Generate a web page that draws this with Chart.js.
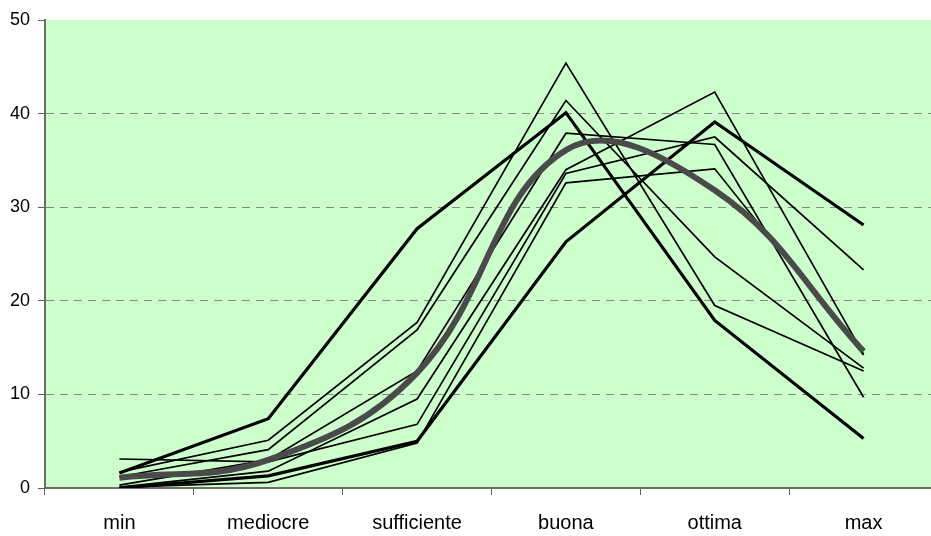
<!DOCTYPE html>
<html>
<head>
<meta charset="utf-8">
<script src="https://cdn.jsdelivr.net/npm/chart.js@4"></script>
<style>
  html, body { margin: 0; padding: 0; background: #fff; overflow: hidden; }
  #wrap { width: 931px; height: 536px; overflow: hidden; }
</style>
</head>
<body>
<div id="wrap"><canvas id="chart" width="945" height="536"></canvas></div>
<script>
const categories = ['min', 'mediocre', 'sufficiente', 'buona', 'ottima', 'max'];

// thin lines
const lineA = [1.7, 5.1, 17.7, 45.4, 19.5, 12.5];
const lineB = [1.2, 4.1, 16.9, 41.4, 24.7, 12.8];
const lineC = [0.3, 3.0, 12.5, 37.9, 36.7, 9.7];
const lineD = [0.1, 1.8, 9.5, 34.0, 42.3, 14.3];
const lineE = [3.1, 2.8, 6.8, 33.6, 37.5, 23.3];
const lineF = [0.1, 0.6, 4.8, 32.6, 34.1, 14.2];
// thick lines
const thickA = [1.6, 7.4, 27.7, 40.1, 17.9, 5.3];
const thickB = [0.0, 1.3, 5.0, 26.3, 39.1, 28.1];
// smooth grey curve
const average = [1.1, 3.0, 12.3, 36.1, 31.8, 14.6];

const yMin = 0, yMax = 50, yStep = 10;

function thin(data) {
  return { data: data, borderColor: '#000', borderWidth: 1.7, pointRadius: 0, tension: 0, fill: false, order: 2 };
}
function thick(data) {
  return { data: data, borderColor: '#000', borderWidth: 3.2, pointRadius: 0, tension: 0, fill: false, order: 1 };
}

// green plot background
const plotBg = {
  id: 'plotBg',
  beforeDraw(chart) {
    const a = chart.chartArea;
    const ctx = chart.ctx;
    ctx.save();
    ctx.fillStyle = '#ccffcc';
    ctx.fillRect(a.left, a.top, a.right - a.left, a.bottom - a.top);
    ctx.restore();
  }
};

const ctx = document.getElementById('chart').getContext('2d');
new Chart(ctx, {
  type: 'line',
  data: {
    labels: categories,
    datasets: [
      { data: average, borderColor: '#4a4a4a', borderWidth: 6, pointRadius: 0, tension: 0.4, fill: false, order: 0 },
      thick(thickA), thick(thickB),
      thin(lineA), thin(lineB), thin(lineC), thin(lineD), thin(lineE), thin(lineF)
    ]
  },
  options: {
    responsive: false,
    devicePixelRatio: 1,
    animation: false,
    layout: { padding: { top: 20, right: 7, left: 0, bottom: 0 } },
    plugins: { legend: { display: false }, tooltip: { enabled: false } },
    scales: {
      x: {
        offset: true,
        grid: { offset: true, drawOnChartArea: false, drawTicks: true, tickLength: 7, color: '#606060', lineWidth: 1 },
        border: { display: true, color: '#6e6e60', width: 2 },
        ticks: { color: '#000', font: { family: 'Liberation Sans, Arial', size: 20 }, padding: 16, maxRotation: 0 },
        afterFit(scale) { scale.height = 48; }
      },
      y: {
        min: yMin, max: yMax,
        ticks: { stepSize: yStep, color: '#000', font: { family: 'Liberation Sans, Arial', size: 18 }, padding: 8 },
        grid: {
          color: (c) => (c.tick && (c.tick.value === yMax || c.tick.value === yMin)) ? 'rgba(0,0,0,0)' : '#888',
          tickColor: '#606060',
          tickBorderDash: [],
          tickLength: 7,
          lineWidth: 1
        },
        border: { display: true, color: '#6e6e60', width: 2, dash: [8, 6] },
        afterFit(scale) { scale.width = 45; }
      }
    }
  },
  plugins: [plotBg]
});
</script>
</body>
</html>
